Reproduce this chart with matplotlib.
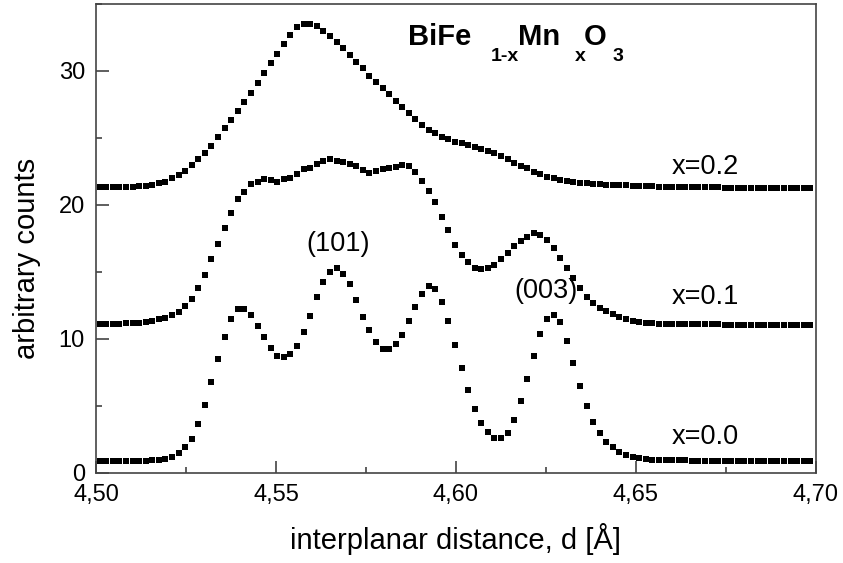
import numpy as np
import matplotlib.pyplot as plt
from matplotlib.ticker import MultipleLocator, FuncFormatter

plt.rcParams['font.family'] = ['Liberation Sans', 'DejaVu Sans']

# measurement grid (interplanar distance, A)
d_start = 4.501
d_step = 0.001828
n_pts = 109

# counts for each composition, one value per grid point
y_x00 = [0.90, 0.90, 0.90, 0.90, 0.90, 0.90, 0.91,
         0.92, 0.95, 0.98,
         1.02, 1.22, 1.47, 1.92, 2.56, 3.63, 5.07, 6.77, 8.53, 10.17, 11.49, 12.24, 12.24,
         11.81, 10.97, 10.15, 9.35, 8.75, 8.63, 8.86, 9.48, 10.55, 11.72, 13.11, 14.28, 15.02,
         15.27, 14.85, 14.08, 12.91, 11.67, 10.67, 9.78, 9.28, 9.23, 9.60, 10.32, 11.34,
         12.41, 13.36, 13.96, 13.71, 12.76, 11.32, 9.53, 7.81, 6.17, 4.80,
         3.73, 3.04, 2.61, 2.59, 3.01, 3.96, 5.35, 6.99, 8.75, 10.37, 11.49, 11.79, 11.24,
         9.85, 8.18,
         6.52, 5.03, 3.83, 2.96, 2.34, 1.92, 1.57, 1.34, 1.22, 1.10, 1.02,
         0.98, 0.96, 0.95, 0.94, 0.93, 0.93, 0.92, 0.92, 0.92, 0.91, 0.91, 0.91, 0.90,
         0.90, 0.90, 0.90, 0.90, 0.90, 0.90, 0.90, 0.90, 0.90, 0.90, 0.90, 0.90]

y_x01 = [11.15, 11.15, 11.15, 11.15, 11.16, 11.18, 11.22,
         11.29, 11.34, 11.47, 11.59, 11.79, 12.04, 12.49, 13.01, 13.83, 14.78, 15.95, 17.09,
         18.31, 19.43, 20.45, 20.99, 21.54, 21.74, 21.92, 21.87, 21.74, 21.92, 22.04, 22.31,
         22.66, 22.78, 23.06, 23.31, 23.41,
         23.31, 23.19, 23.06, 22.93, 22.61, 22.36, 22.56, 22.69, 22.74, 22.86, 22.99, 22.91,
         22.49, 21.79, 21.07, 20.20, 19.13, 18.13,
         17.01, 16.27, 15.77, 15.27, 15.20, 15.27, 15.52, 15.95, 16.40, 16.94, 17.31,
         17.64, 17.89, 17.76, 17.35, 16.75, 16.02, 15.27,
         14.53, 13.78, 13.11, 12.66, 12.34, 12.09, 11.87, 11.62, 11.47, 11.37, 11.27, 11.22, 11.17,
         11.15, 11.14, 11.13, 11.12, 11.11, 11.10, 11.10, 11.09, 11.08, 11.08, 11.07, 11.07,
         11.06, 11.06, 11.05, 11.05, 11.05, 11.05, 11.05, 11.05, 11.05, 11.05, 11.05, 11.05]

y_x02 = [21.35, 21.35, 21.35, 21.35, 21.36, 21.37, 21.40, 21.44,
         21.49, 21.62, 21.74, 21.99, 22.24, 22.56, 22.99, 23.41, 23.86, 24.40, 25.10, 25.77,
         26.34, 26.99, 27.71, 28.34, 29.08, 29.83, 30.57, 31.27, 32.01, 32.66, 33.26, 33.51,
         33.51, 33.36, 33.01, 32.61,
         32.19, 31.69, 31.19, 30.69, 30.20, 29.63, 29.20, 28.71, 28.26, 27.78, 27.34, 26.89,
         26.39, 25.97, 25.60, 25.35, 25.10, 24.90, 24.72, 24.65, 24.48, 24.35, 24.18, 24.05,
         23.86, 23.66, 23.41, 23.16, 22.91, 22.74, 22.49, 22.29, 22.11, 21.99, 21.87, 21.79,
         21.72, 21.66, 21.62, 21.58, 21.55, 21.52, 21.50, 21.48, 21.46, 21.44, 21.42, 21.40, 21.38,
         21.37, 21.36, 21.35, 21.34, 21.33, 21.33, 21.32, 21.32, 21.31, 21.31, 21.30, 21.30,
         21.30, 21.29, 21.29, 21.29, 21.28, 21.28, 21.28, 21.27, 21.27, 21.27, 21.27, 21.27]

curve_labels = ["x=0.0", "x=0.1", "x=0.2"]
label_y = [2.7, 13.1, 22.8]
peak_labels = ["(101)", "(003)"]
peak_pos = [(4.5672, 17.1), (4.6250, 13.55)]

# formula pieces: (text, is_subscript)
formula = [("BiFe", False), ("1-x", True), ("Mn", False), ("x", True), ("O", False), ("3", True)]
formula_x = [4.5867, 4.6097, 4.6172, 4.6331, 4.6355, 4.6436]
formula_base = 31.94
sub_drop = 1.2

d = d_start + d_step * np.arange(n_pts)

fig = plt.figure(figsize=(8.43, 5.63), dpi=100)
ax = fig.add_axes([0.1139, 0.160, 0.854, 0.833])

for y in (y_x00, y_x01, y_x02):
    ax.plot(d, y, ls='none', marker='s', ms=4.0, mew=0, color='black')

ax.set_xlim(4.50, 4.70)
ax.set_ylim(0, 35)

ax.xaxis.set_major_locator(MultipleLocator(0.05))
ax.xaxis.set_minor_locator(MultipleLocator(0.025))
ax.yaxis.set_major_locator(MultipleLocator(10))
ax.yaxis.set_minor_locator(MultipleLocator(5))
ax.xaxis.set_major_formatter(FuncFormatter(lambda v, p: f"{v:.2f}".replace('.', ',')))

ax.tick_params(which='both', direction='in', top=False, right=False,
               width=1.1, color='#333333', labelsize=17)
ax.tick_params(which='major', length=9, pad=8)
ax.tick_params(which='minor', length=4)
for sp in ax.spines.values():
    sp.set_color('#444444')
    sp.set_linewidth(1.2)

ax.set_xlabel("interplanar distance, d [Å]", fontsize=21, labelpad=12)
ax.set_ylabel("arbitrary counts", fontsize=21)
ax.yaxis.set_label_coords(-0.076, 0.458)

for lab, yy in zip(curve_labels, label_y):
    ax.text(4.6692, yy, lab, fontsize=19.5, ha='center', va='center')
for lab, (xx, yy) in zip(peak_labels, peak_pos):
    ax.text(xx, yy, lab, fontsize=19.5, ha='center', va='center')

for (txt, sub), xx in zip(formula, formula_x):
    ax.text(xx, formula_base - (sub_drop if sub else 0), txt,
            fontsize=14 if sub else 21, fontweight='bold', ha='left', va='baseline')

fig.savefig("out.png", dpi=100)
